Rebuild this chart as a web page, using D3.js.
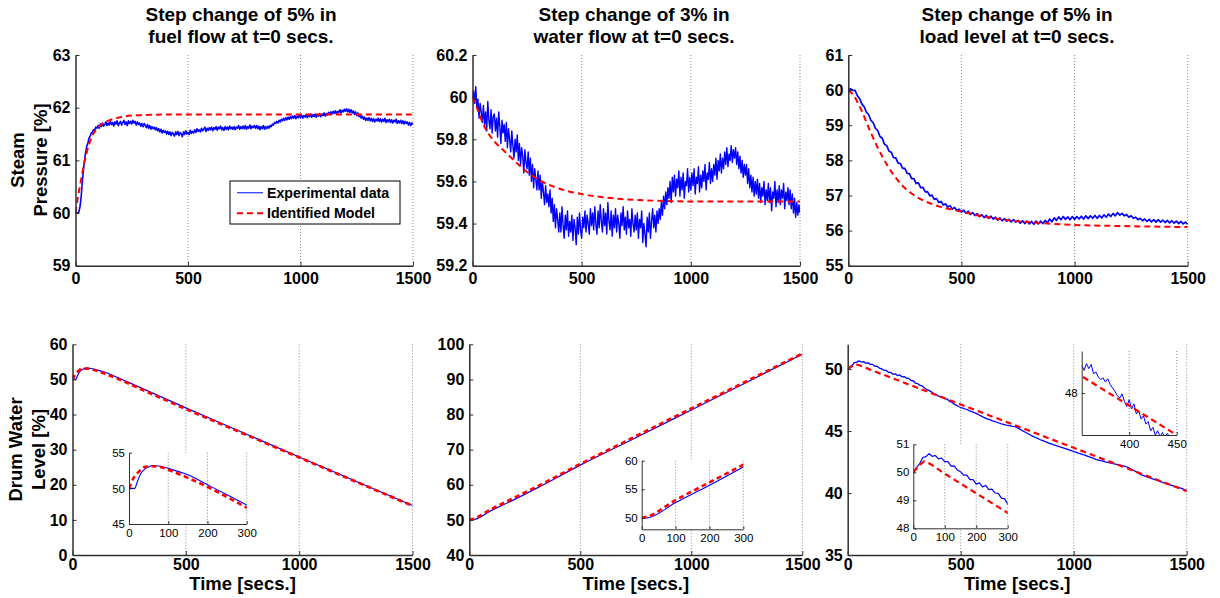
<!DOCTYPE html>
<html><head><meta charset="utf-8">
<script src="https://cdn.jsdelivr.net/npm/d3@7"></script>
<style>
body{margin:0;background:#fff;}
svg{display:block;}
</style></head><body>
<svg id="c" width="1220" height="598"></svg>
<script>
// ---------------- DATA ----------------
// sampling times of the experimental records
const expTimes5 = d3.range(0, 1501, 5);    // top-left, top-middle (every 5 s)
const expTimes10 = d3.range(0, 1501, 10);  // top-right, bottom-right (every 10 s)

// Top-left: steam pressure, step in fuel flow
const tlExp = [
60.00,60.01,60.00,60.02,60.12,60.30,60.58,60.80,61.00,61.15,
61.27,61.33,61.42,61.46,61.52,61.53,61.58,61.57,61.63,61.61,
61.66,61.61,61.69,61.64,61.71,61.65,61.68,61.73,61.66,61.71,
61.67,61.74,61.68,61.72,61.65,61.73,61.69,61.75,61.66,61.71,
61.74,61.67,61.72,61.76,61.68,61.73,61.66,61.75,61.70,61.74,
61.69,61.76,61.71,61.74,61.67,61.73,61.68,61.71,61.65,61.70,
61.64,61.70,61.66,61.62,61.68,61.61,61.66,61.59,61.64,61.60,
61.63,61.58,61.62,61.56,61.60,61.54,61.59,61.52,61.57,61.53,
61.56,61.50,61.55,61.49,61.54,61.47,61.53,61.50,61.46,61.54,
61.49,61.55,61.47,61.53,61.50,61.45,61.54,61.49,61.56,61.50,
61.53,61.49,61.57,61.51,61.55,61.52,61.58,61.53,61.60,61.55,
61.58,61.54,61.61,61.56,61.59,61.63,61.55,61.61,61.57,61.62,
61.58,61.63,61.56,61.62,61.59,61.64,61.57,61.63,61.60,61.65,
61.58,61.62,61.57,61.64,61.59,61.63,61.58,61.65,61.60,61.63,
61.59,61.64,61.58,61.63,61.61,61.66,61.59,61.64,61.60,61.65,
61.60,61.66,61.59,61.64,61.61,61.67,61.60,61.65,61.62,61.66,
61.61,61.66,61.60,61.65,61.58,61.64,61.60,61.66,61.59,61.64,
61.60,61.65,61.61,61.66,61.64,61.69,61.67,61.72,61.70,61.74,
61.71,61.76,61.73,61.78,61.75,61.80,61.76,61.81,61.77,61.82,
61.78,61.83,61.79,61.84,61.80,61.85,61.79,61.84,61.81,61.86,
61.81,61.86,61.80,61.85,61.82,61.87,61.81,61.86,61.83,61.88,
61.82,61.87,61.83,61.88,61.82,61.87,61.84,61.89,61.83,61.88,
61.85,61.90,61.84,61.89,61.86,61.91,61.87,61.92,61.88,61.93,
61.89,61.94,61.88,61.93,61.91,61.96,61.90,61.95,61.92,61.97,
61.93,61.98,61.92,61.97,61.91,61.96,61.90,61.94,61.87,61.92,
61.85,61.90,61.83,61.87,61.80,61.84,61.78,61.82,61.76,61.80,
61.76,61.81,61.75,61.80,61.74,61.79,61.73,61.78,61.75,61.80,
61.74,61.79,61.73,61.78,61.74,61.80,61.72,61.77,61.73,61.78,
61.72,61.77,61.71,61.76,61.73,61.78,61.70,61.75,61.71,61.76,
61.70,61.75,61.69,61.74,61.70,61.73,61.67,61.72,61.66,61.71,
61.68];
const tlModelT = [0,10,20,30,40,50,60,70,80,100,120,150,200,250,300,400,600,1000,1500];
const tlModelV = [60.0,60.28,60.52,60.75,60.97,61.15,61.30,61.42,61.51,61.62,61.70,61.76,61.82,61.85,61.86,61.87,61.87,61.87,61.87];

// Top-middle: steam pressure, step in water flow
const tmExp = [
60.00,60.03,59.97,60.05,59.95,59.99,59.90,59.97,59.93,59.88,
59.96,59.87,59.93,59.84,59.98,59.89,59.85,59.94,59.83,59.91,
59.92,59.84,59.90,59.81,59.93,59.86,59.78,59.89,59.83,59.87,
59.79,59.88,59.76,59.85,59.80,59.74,59.84,59.77,59.71,59.80,
59.74,59.82,59.70,59.78,59.68,59.76,59.72,59.64,59.75,59.69,
59.66,59.74,59.63,59.71,59.60,59.68,59.57,59.66,59.61,59.56,
59.65,59.56,59.63,59.52,59.60,59.55,59.49,59.58,59.50,59.54,
59.48,59.56,59.45,59.52,59.41,59.49,59.38,59.47,59.42,59.36,
59.45,59.36,59.48,59.39,59.33,59.44,59.37,59.46,59.34,59.41,
59.36,59.44,59.32,59.42,59.38,59.30,59.43,59.35,59.45,59.37,
59.33,59.43,59.38,59.46,59.36,59.44,59.40,59.35,59.47,59.39,
59.45,59.37,59.48,59.40,59.35,59.46,59.38,59.49,59.41,59.36,
59.47,59.39,59.45,59.35,59.50,59.41,59.37,59.46,59.34,59.44,
59.38,59.47,59.36,59.44,59.40,59.33,59.45,59.39,59.48,59.37,
59.43,59.35,59.46,59.38,59.42,59.34,59.47,59.40,59.36,59.44,
59.37,59.45,59.33,59.42,59.38,59.46,59.31,59.40,59.35,59.29,
59.43,59.36,59.45,59.33,59.41,59.47,59.38,59.44,59.36,59.46,
59.40,59.47,59.42,59.50,59.44,59.53,59.47,59.55,59.49,59.57,
59.52,59.60,59.50,59.62,59.55,59.63,59.53,59.61,59.57,59.65,
59.53,59.62,59.56,59.64,59.52,59.60,59.58,59.66,59.55,59.62,
59.56,59.64,59.58,59.66,59.54,59.62,59.59,59.67,59.55,59.63,
59.57,59.65,59.60,59.68,59.56,59.64,59.61,59.69,59.59,59.66,
59.60,59.68,59.63,59.71,59.61,59.70,59.65,59.73,59.64,59.71,
59.66,59.74,59.68,59.76,59.67,59.73,59.70,59.77,59.69,59.75,
59.71,59.76,59.68,59.74,59.66,59.72,59.64,59.70,59.62,59.68,
59.63,59.68,59.59,59.66,59.57,59.63,59.55,59.62,59.53,59.60,
59.54,59.61,59.52,59.59,59.50,59.57,59.53,59.60,59.49,59.56,
59.51,59.59,59.50,59.57,59.46,59.55,59.52,59.60,59.48,59.56,
59.50,59.58,59.49,59.56,59.52,59.59,59.47,59.55,59.51,59.57,
59.49,59.56,59.47,59.54,59.45,59.52,59.43,59.50,59.44,59.49,
59.45];
const tmModelT = [0,20,50,100,150,200,250,300,400,500,600,700,800,1000,1500];
const tmModelV = [60.0,59.95,59.87,59.79,59.74,59.69,59.645,59.61,59.565,59.54,59.525,59.515,59.51,59.505,59.505];

// Top-right: steam pressure, step in load level
const trExp = [
60.00,60.04,59.99,59.99,59.84,59.76,59.60,59.53,59.37,59.30,59.14,
59.07,58.91,58.85,58.68,58.63,58.46,58.42,58.26,58.23,58.08,
58.07,57.92,57.91,57.77,57.77,57.63,57.62,57.48,57.48,57.34,
57.36,57.22,57.23,57.10,57.11,56.99,57.01,56.89,56.91,56.80,
56.83,56.73,56.76,56.67,56.71,56.61,56.66,56.57,56.61,56.53,
56.58,56.49,56.55,56.46,56.51,56.43,56.48,56.40,56.45,56.37,
56.43,56.35,56.41,56.33,56.38,56.30,56.36,56.28,56.34,56.27,
56.32,56.25,56.31,56.24,56.29,56.21,56.28,56.20,56.27,56.19,
56.26,56.18,56.27,56.19,56.27,56.20,56.29,56.22,56.33,56.25,
56.36,56.29,56.39,56.31,56.40,56.32,56.39,56.31,56.40,56.32,
56.40,56.33,56.41,56.33,56.42,56.34,56.42,56.35,56.43,56.35,
56.43,56.36,56.45,56.38,56.47,56.40,56.49,56.42,56.51,56.44,
56.49,56.42,56.46,56.38,56.42,56.35,56.38,56.31,56.35,56.28,
56.33,56.26,56.32,56.25,56.31,56.24,56.31,56.24,56.30,56.23,
56.29,56.22,56.28,56.21,56.27,56.20,56.26,56.19,56.24,56.18];
const trModelT = [0,20,50,100,150,200,250,300,400,500,600,700,800,1000,1200,1500];
const trModelV = [60.0,59.88,59.54,58.78,58.11,57.59,57.21,56.97,56.69,56.54,56.40,56.30,56.24,56.16,56.13,56.10];

// Bottom-left: drum water level, step in fuel flow (smooth)
const blExpT = [0,15,20,30,40,50,60,80,100,150,200,250,300,500,750,1000,1250,1500];
const blExpV = [50,50,50.75,52.05,52.7,53.0,53.2,53.1,52.8,51.9,50.5,49.1,47.65,41.9,34.9,27.9,21.0,14.1];
const blModelT = [0,10,20,30,40,60,80,100,200,300,500,750,1000,1250,1500];
const blModelV = [50,51.3,52.05,52.6,53.0,53.1,53.0,52.6,50.2,47.3,41.6,34.7,27.8,20.9,14.0];

// Bottom-middle: drum water level, step in water flow (smooth)
const bmExpT = [0,15,100,200,300,500,750,1000,1250,1500];
const bmExpV = [50,50,52.7,55.7,58.9,65.6,73.4,81.3,89.2,97.2];
const bmModelT = [0,15,100,200,300,500,750,1000,1250,1500];
const bmModelV = [50,50.2,53.1,56.2,59.3,65.9,73.8,81.7,89.5,97.3];

// Bottom-right: drum water level, step in load level
const brExp = [
50.00,50.17,50.30,50.53,50.56,50.66,50.57,50.60,50.48,50.51,50.38,
50.38,50.22,50.23,50.08,50.02,49.90,49.90,49.74,49.74,49.58,
49.62,49.48,49.53,49.38,49.40,49.26,49.25,49.08,49.06,48.86,
48.82,48.68,48.64,48.48,48.34,48.28,48.16,48.05,47.97,47.84,
47.78,47.72,47.62,47.58,47.40,47.34,47.18,47.10,46.98,46.90,
46.85,46.78,46.72,46.63,46.57,46.48,46.41,46.32,46.22,46.12,
46.05,45.97,45.92,45.82,45.78,45.71,45.65,45.58,45.54,45.48,
45.46,45.42,45.38,45.35,45.28,45.18,45.06,44.96,44.86,44.76,
44.66,44.57,44.48,44.41,44.32,44.25,44.18,44.10,44.02,43.96,
43.90,43.85,43.78,43.72,43.67,43.60,43.55,43.49,43.42,43.35,
43.30,43.22,43.18,43.10,43.05,42.98,42.91,42.85,42.77,42.70,
42.66,42.61,42.57,42.52,42.48,42.44,42.40,42.35,42.31,42.27,
42.24,42.20,42.14,42.07,41.97,41.88,41.78,41.67,41.57,41.46,
41.40,41.33,41.27,41.21,41.14,41.09,41.02,40.95,40.88,40.81,
40.76,40.70,40.64,40.58,40.52,40.47,40.41,40.35,40.28,40.22];
const brModelT = [0,10,20,30,35,40,100,300,500,750,1000,1250,1500];
const brModelV = [50.0,50.13,50.25,50.35,50.39,50.37,49.95,48.55,47.15,45.40,43.65,41.90,40.15];
// finer record shown in the 350-450 s zoom (every 2.5 s)
const brZoomT = d3.range(350, 451, 2.5);
const brZoomV = [48.33,48.27,48.35,48.29,48.34,48.23,48.25,48.19,48.16,48.18,48.13,48.17,48.10,48.06,48.02,47.97,47.94,47.99,47.90,47.84,47.92,47.81,47.87,47.75,47.79,47.69,47.73,47.63,47.66,47.55,47.59,47.50,47.55,47.48,47.53,47.47,47.52,47.48,47.45,47.40,47.38];

// tick labels / texts
const mainXTicks = [0,500,1000,1500];
const insetXTicks = [0,100,200,300];
const titles = [["Step change of 5% in","fuel flow at t=0 secs."],["Step change of 3% in","water flow at t=0 secs."],["Step change of 5% in","load level at t=0 secs."]];
const yLabels = [["Steam","Pressure [%]"],["Drum Water","Level [%]"]];
const xLabel = "Time [secs.]";
const legendLabels = ["Experimental data","Identified Model"];

// ---------------- DRAWING ----------------
const FONT = '"Liberation Sans", Arial, Helvetica, sans-serif';
const BLUE = "#0000ff", RED = "#ff0000";
const svg = d3.select("#c");
const defs = svg.append("defs");
let clipN = 0;

function drawPlot(p) {
  const x = d3.scaleLinear().domain(p.xDomain).range([p.x0, p.x1]);
  const y = d3.scaleLinear().domain(p.yDomain).range([p.y1, p.y0]);
  const g = svg.append("g");
  if (p.inset) g.append("rect").attr("x", p.x0).attr("y", p.y0)
      .attr("width", p.x1 - p.x0).attr("height", p.y1 - p.y0).attr("fill", "#fff");
  g.append("g").selectAll("line").data(p.grid).join("line")
    .attr("x1", d => x(d)).attr("x2", d => x(d)).attr("y1", p.y0).attr("y2", p.y1)
    .attr("stroke", "#8a8a8a").attr("stroke-width", 1).attr("stroke-dasharray", "1,2");
  const id = "clip" + (clipN++);
  defs.append("clipPath").attr("id", id).append("rect")
    .attr("x", p.x0).attr("y", p.y0).attr("width", p.x1 - p.x0).attr("height", p.y1 - p.y0);
  const plot = g.append("g").attr("clip-path", `url(#${id})`);
  p.series.forEach(s => {
    const line = d3.line().x((d, i) => x(s.t[i])).y(d => y(d)).curve(s.curve || d3.curveLinear);
    plot.append("path").datum(s.v).attr("d", line).attr("fill", "none")
      .attr("stroke", s.color).attr("stroke-width", s.w)
      .attr("stroke-dasharray", s.dash || null).attr("stroke-linejoin", "round");
  });
  const xa = g.append("g").attr("transform", `translate(0,${p.y1})`)
    .call(d3.axisBottom(x).tickValues(p.xTicks).tickSizeInner(-p.tick).tickSizeOuter(0)
      .tickPadding(p.xPad).tickFormat(d => String(d)));
  const ya = g.append("g").attr("transform", `translate(${p.x0},0)`)
    .call(d3.axisLeft(y).tickValues(p.yTicks).tickSizeInner(-p.tick).tickSizeOuter(0)
      .tickPadding(p.yPad).tickFormat(d => String(d)));
  [xa, ya].forEach(a => {
    a.attr("font-family", FONT).attr("font-size", p.fs).attr("font-weight", p.inset ? "normal" : "bold");
    a.select(".domain").attr("stroke", "#303030").attr("stroke-width", p.axisW);
    a.selectAll(".tick line").attr("stroke", "#303030");
    a.selectAll("text").attr("fill", "#000");
  });
}

function model(t, v, w, dash) { return {t, v, color: RED, w: w || 2, dash: dash || "6,4", curve: d3.curveMonotoneX}; }
function exp(t, v, w, curve) { return {t, v, color: BLUE, w: w || 1, curve: curve || d3.curveLinear}; }

const topY0 = 55, topY1 = 265.7, botY0 = 344.3, botY1 = 555;
const mainCfg = {xDomain: [0, 1500], xTicks: mainXTicks, grid: [500, 1000, 1500], tick: 4, fs: 16, yPad: 5, axisW: 1.5};

const panels = [
  Object.assign({}, mainCfg, {x0: 75.5, x1: 413, y0: topY0, y1: topY1, xPad: 7,
    yDomain: [59, 63], yTicks: [59, 60, 61, 62, 63],
    series: [exp(expTimes5, tlExp, 1.6), model(tlModelT, tlModelV)]}),
  Object.assign({}, mainCfg, {x0: 472.5, x1: 800, y0: topY0, y1: topY1, xPad: 7,
    yDomain: [59.2, 60.2], yTicks: [59.2, 59.4, 59.6, 59.8, 60, 60.2],
    series: [exp(expTimes5, tmExp, 1.4), model(tmModelT, tmModelV)]}),
  Object.assign({}, mainCfg, {x0: 848.3, x1: 1187.7, y0: topY0, y1: topY1, xPad: 7,
    yDomain: [55, 61], yTicks: [55, 56, 57, 58, 59, 60, 61],
    series: [exp(expTimes10, trExp, 1.7), model(trModelT, trModelV)]}),
  Object.assign({}, mainCfg, {x0: 72.5, x1: 412.5, y0: botY0, y1: botY1, xPad: 4,
    yDomain: [0, 60], yTicks: [0, 10, 20, 30, 40, 50, 60],
    series: [exp(blExpT, blExpV, 1.2, d3.curveMonotoneX), model(blModelT, blModelV, 2.8, "5,3.5")]}),
  Object.assign({}, mainCfg, {x0: 469.3, x1: 802.3, y0: botY0, y1: botY1, xPad: 4,
    yDomain: [40, 100], yTicks: [40, 50, 60, 70, 80, 90, 100],
    series: [exp(bmExpT, bmExpV, 1.2, d3.curveMonotoneX), model(bmModelT, bmModelV, 2.8, "5,3.5")]}),
  Object.assign({}, mainCfg, {x0: 847.7, x1: 1186.7, y0: botY0, y1: botY1, xPad: 4,
    yDomain: [35, 52], yTicks: [35, 40, 45, 50],
    series: [exp(expTimes10, brExp, 1.3), model(brModelT, brModelV, 2.2)]})
];
panels.forEach(drawPlot);

const insetCfg = {inset: true, tick: 3, fs: 11.5, xPad: 5, yPad: 4, axisW: 1};
const insets = [
  Object.assign({}, insetCfg, {x0: 129, x1: 246.7, y0: 452.7, y1: 524, xDomain: [0, 300], yDomain: [45, 55],
    xTicks: insetXTicks, yTicks: [45, 50, 55], grid: [100, 200, 300],
    series: [exp(blExpT, blExpV, 1.1, d3.curveMonotoneX), model(blModelT, blModelV, 2.6, "5,3.5")]}),
  Object.assign({}, insetCfg, {x0: 641.7, x1: 743.3, y0: 460.7, y1: 529.3, xDomain: [0, 300], yDomain: [48, 60],
    xTicks: insetXTicks, yTicks: [50, 55, 60], grid: [100, 200, 300],
    series: [exp(bmExpT, bmExpV, 1.1, d3.curveMonotoneX), model(bmModelT, bmModelV, 2.6, "5,3.5")]}),
  Object.assign({}, insetCfg, {x0: 913.3, x1: 1007.7, y0: 444.3, y1: 528.3, xDomain: [0, 300], yDomain: [48, 51],
    xTicks: insetXTicks, yTicks: [48, 49, 50, 51], grid: [100, 200, 300],
    series: [exp(expTimes10, brExp, 1.2), model(brModelT, brModelV, 2.2)]}),
  Object.assign({}, insetCfg, {x0: 1081.7, x1: 1176.7, y0: 351, y1: 435, xDomain: [350, 450], yDomain: [47.5, 48.5],
    xTicks: [400, 450], yTicks: [48], grid: [400, 450],
    series: [exp(brZoomT, brZoomV, 1), model(brModelT, brModelV, 2.2)]})
];
insets.forEach(drawPlot);

// titles
const titleCenters = [241, 634, 1017];
titles.forEach((lines, i) => {
  const t = svg.append("text").attr("font-family", FONT).attr("font-weight", "bold").attr("font-size", 19)
    .attr("text-anchor", "middle").attr("fill", "#000");
  lines.forEach((s, k) => t.append("tspan").attr("x", titleCenters[i]).attr("y", 20.5 + 22.5 * k).text(s));
});

// y labels
const yLabelPos = [{c: 160, xs: [24, 46.5]}, {c: 449.5, xs: [22, 45]}];
yLabels.forEach((lines, i) => {
  lines.forEach((s, k) => {
    svg.append("text").attr("font-family", FONT).attr("font-weight", "bold").attr("font-size", 18.5)
      .attr("text-anchor", "middle").attr("fill", "#000")
      .attr("transform", `translate(${yLabelPos[i].xs[k]},${yLabelPos[i].c}) rotate(-90)`).text(s);
  });
});

// x labels (bottom row)
[242.5, 635.8, 1017.2].forEach(cx => {
  svg.append("text").attr("font-family", FONT).attr("font-weight", "bold").attr("font-size", 18.5)
    .attr("text-anchor", "middle").attr("fill", "#000").attr("x", cx).attr("y", 590).text(xLabel);
});

// legend (top-left panel)
const lg = svg.append("g");
lg.append("rect").attr("x", 230).attr("y", 181).attr("width", 170).attr("height", 43)
  .attr("fill", "#fff").attr("stroke", "#000").attr("stroke-width", 1);
const legRows = [{c: "#3344ff", w: 1.3, dash: null, y: 192.7}, {c: RED, w: 2, dash: "6,4", y: 213.3}];
legRows.forEach((r, i) => {
  lg.append("line").attr("x1", 237).attr("x2", 263).attr("y1", r.y).attr("y2", r.y)
    .attr("stroke", r.c).attr("stroke-width", r.w).attr("stroke-dasharray", r.dash);
  lg.append("text").attr("x", 267).attr("y", r.y).attr("dy", "0.36em")
    .attr("font-family", FONT).attr("font-weight", "bold").attr("font-size", 14.2).attr("fill", "#000")
    .text(legendLabels[i]);
});
</script>
</body></html>
